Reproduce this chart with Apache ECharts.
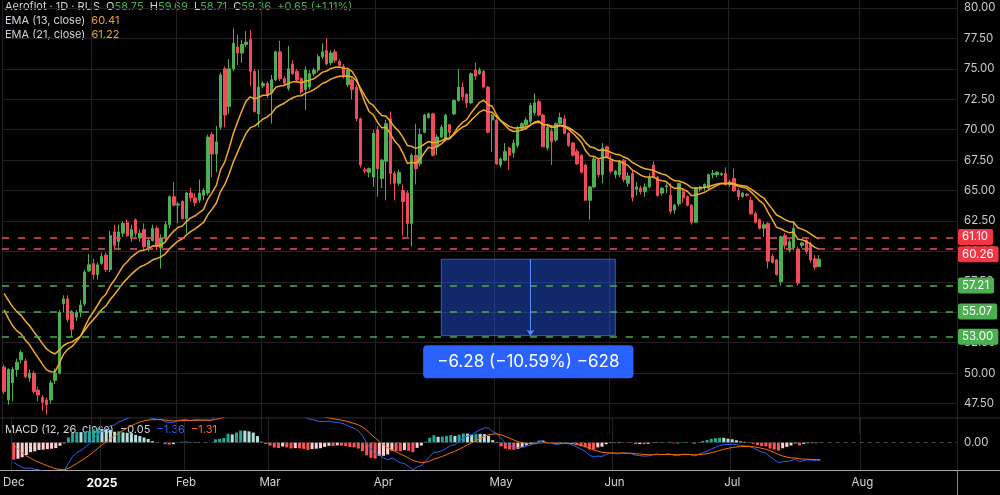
<!DOCTYPE html>
<html>
<head>
<meta charset="utf-8">
<script src="https://cdn.jsdelivr.net/npm/echarts@6/dist/echarts.min.js"></script>
<style>
  html, body { margin: 0; padding: 0; background: #000; }
  #main { width: 1000px; height: 495px; }
</style>
</head>
<body>
<div id="main"></div>
<script>
// daily bars, [open, high, low, close]
const bars = [
  [50.5,50.7,48.3,48.5],[47.8,50.4,47.4,50.3],[49.2,50.5,47.7,50.3],[50.3,51.2,49.7,50.9],[51.1,51.9,50.8,51.7],
  [51.0,51.2,49.6,49.7],[49.6,50.3,49.3,50.0],[50.0,50.2,48.3,48.5],[48.6,48.9,47.7,48.2],[48.0,48.2,46.9,47.6],
  [47.8,48.0,46.6,47.4],[47.8,49.4,47.5,49.2],[49.4,50.4,49.1,50.0],[50.0,55.2,49.9,55.0],[55.7,56.4,55.0,56.1],
  [56.1,56.4,54.2,54.4],[55.0,55.2,53.0,53.6],[54.6,55.2,54.3,55.0],[55.0,56.0,54.6,55.6],[55.7,58.5,55.5,58.3],
  [58.4,59.8,58.3,58.9],[59.0,59.4,57.7,58.1],[58.1,59.1,57.7,58.9],[59.0,59.9,58.9,59.6],[59.7,59.9,58.3,58.5],
  [58.5,61.7,58.3,61.3],[61.6,62.2,60.2,60.5],[60.8,62.2,60.1,61.6],[61.5,62.5,61.2,62.3],[62.4,62.6,61.2,61.3],
  [61.2,62.2,60.8,61.8],[62.6,62.7,61.2,61.5],[61.1,61.8,60.8,61.5],[61.8,62.3,60.1,60.4],[60.25,61.2,60.0,60.9],
  [60.9,62.2,60.8,61.9],[61.9,62.1,60.1,60.4],[60.3,61.4,58.6,61.1],[61.1,62.5,60.8,62.2],[62.2,64.6,61.9,64.5],
  [64.5,65.7,63.7,63.8],[63.8,64.1,62.3,63.9],[64.1,64.2,62.6,62.7],[62.7,64.9,61.5,64.8],[64.8,65.2,64.1,64.4],
  [64.4,64.8,63.7,64.0],[64.2,65.9,64.0,64.8],[64.6,65.2,64.2,65.0],[64.8,69.6,64.6,69.4],[69.6,69.8,66.1,68.0],
  [68.0,70.3,66.5,69.0],[70.2,74.7,70.0,74.5],[75.0,75.2,70.2,71.2],[71.9,75.8,71.3,75.0],[75.0,78.3,74.8,77.1],
  [76.8,77.8,75.3,76.3],[76.3,77.4,75.5,77.0],[77.0,78.1,76.8,77.2],[77.4,78.2,73.6,74.8],[74.8,75.0,71.4,71.5],
  [71.3,74.9,70.2,73.5],[73.6,74.0,73.4,73.8],[73.8,74.0,72.6,72.8],[73.0,74.5,70.5,74.1],[74.1,76.5,74.0,76.4],
  [76.4,77.3,74.0,74.2],[74.2,74.4,73.6,73.8],[73.4,76.9,73.2,75.0],[75.4,75.7,74.5,74.6],[74.8,75.0,73.9,74.1],
  [74.2,74.3,72.9,73.1],[73.3,75.2,71.6,74.9],[73.5,74.9,73.3,74.6],[74.6,75.1,74.4,74.9],[74.9,76.2,74.7,76.0],
  [76.0,77.1,75.8,76.4],[76.5,77.5,75.3,75.4],[75.5,76.5,75.3,76.3],[76.4,76.6,75.5,75.7],[75.6,75.8,75.1,75.3],
  [75.2,75.4,74.2,74.4],[73.7,75.1,73.5,74.9],[74.1,74.3,72.5,73.3],[73.5,73.7,70.7,70.9],[70.9,71.0,66.9,67.1],
  [66.7,66.9,66.4,66.6],[66.5,66.9,66.1,66.8],[66.1,70.0,65.3,69.7],[70.0,70.3,64.5,66.8],[66.0,67.6,65.2,67.5],
  [67.4,70.8,64.2,70.5],[70.9,71.5,65.5,66.4],[66.4,66.6,64.2,65.6],[65.6,66.7,65.4,66.5],[65.0,65.5,61.3,64.1],
  [64.8,65.0,61.2,62.3],[62.3,68.1,60.4,67.9],[67.9,70.5,65.5,66.8],[67.2,70.1,67.0,69.6],[69.8,71.3,69.7,71.2],
  [71.0,71.4,70.9,71.3],[71.3,71.4,67.8,67.9],[68.6,69.6,67.9,69.4],[69.4,70.4,69.3,70.2],[69.3,71.3,69.2,71.2],
  [70.4,70.5,69.3,69.8],[71.3,72.5,71.2,72.4],[72.4,75.0,72.3,73.5],[73.5,73.9,72.4,72.7],[72.9,73.0,71.8,72.2],
  [72.2,74.7,72.1,74.6],[74.9,75.5,74.1,74.4],[74.6,75.1,74.5,74.9],[74.8,74.9,73.4,73.5],[73.5,73.6,69.7,69.8],
  [70.8,71.3,68.2,71.2],[70.8,70.9,67.1,67.2],[67.1,67.7,66.9,67.6],[67.5,68.9,67.4,68.2],[68.5,68.6,66.7,67.9],
  [68.1,69.2,67.7,68.9],[68.7,70.3,68.5,70.1],[70.1,70.6,69.9,70.5],[70.4,71.0,70.2,70.8],[70.7,72.2,70.5,72.0],
  [71.4,73.0,71.2,72.2],[72.3,72.5,71.1,71.2],[71.2,71.3,68.6,68.6],[68.5,70.5,68.3,70.2],[69.9,70.1,67.1,69.0],
  [69.15,70.6,69.0,70.5],[70.5,71.4,70.3,71.0],[70.9,71.2,69.6,69.7],[69.7,69.8,68.6,68.7],[68.9,69.0,67.8,67.9],
  [68.2,68.4,67.1,67.2],[67.9,68.0,66.4,66.5],[67.1,67.2,64.2,64.2],[64.2,65.4,62.6,65.3],[65.3,67.8,65.2,67.6],
  [67.5,67.7,66.1,66.3],[66.3,68.9,65.6,68.5],[68.6,68.7,67.7,67.8],[67.5,67.9,66.4,66.6],[66.3,66.7,66.0,66.6],
  [66.3,67.5,66.1,67.4],[67.5,67.6,65.7,65.9],[65.6,66.5,65.3,66.2],[66.4,66.7,64.1,64.4],[65.1,65.7,64.6,65.3],
  [65.2,65.4,64.7,64.9],[64.9,65.6,64.5,65.3],[65.3,66.4,65.2,66.1],[67.1,67.4,66.0,66.1],[66.1,66.2,64.5,64.6],
  [64.8,65.3,64.6,65.2],[65.3,65.6,64.8,65.4],[64.6,65.6,63.1,63.3],[63.4,63.9,63.1,63.8],[63.9,65.6,63.7,65.6],
  [64.9,65.2,64.0,64.4],[64.5,64.6,63.7,63.8],[63.8,63.9,62.2,62.4],[62.4,65.3,62.4,65.2],[65.1,65.4,64.9,65.3],
  [65.3,65.6,65.0,65.5],[65.2,66.4,65.1,66.3],[66.3,66.7,66.0,66.4],[66.3,66.6,66.1,66.5],[66.3,66.5,66.2,66.4],
  [66.4,66.9,65.4,65.5],[65.5,65.9,65.3,65.7],[66.0,66.8,64.9,65.0],[65.0,65.2,64.2,64.5],[64.5,64.9,64.4,64.8],
  [64.7,64.8,64.5,64.6],[64.2,64.5,63.0,63.1],[63.1,63.3,62.3,62.4],[62.6,62.7,61.8,61.9],[61.9,62.4,61.2,62.2],
  [62.3,62.4,58.6,59.2],[59.6,59.8,59.0,59.1],[59.3,59.4,58.0,58.1],[57.5,61.3,57.2,61.2],[61.3,61.5,60.2,60.5],
  [60.1,61.0,59.9,60.8],[60.3,62.5,60.1,61.9],[60.2,60.4,57.2,57.4],[60.5,60.8,60.3,60.7],[60.9,61.1,59.8,60.0],
  [60.6,60.8,59.1,59.3],[59.4,59.7,58.5,58.71],[58.75,59.69,58.71,59.36]
];
const slots = 225; // bar slots across the plot, the last ones empty
const monthTicks = { 0: 'Dec', 21: '2025', 41: 'Feb', 61: 'Mar', 88: 'Apr', 116: 'May', 143: 'Jun', 171: 'Jul', 202: 'Aug' };
const redLevels = [61.10, 60.26];
const greenLevels = [57.21, 55.07, 53.00];
// indicator values at the first visible bar (history before it is off screen)
const emaSeeds = [55.2, 56.55];          // EMA13, EMA21
const macdSeeds = [55.0, 56.6, -0.2];    // EMA12, EMA26, signal
const boxBars = [103, 144];
const boxPrices = [59.36, 53.08];
const boxText = '\u22126.28 (\u221210.59%) \u2212628';

const FONT = 'Inter, "Noto Sans", sans-serif';
const UP = '#4caf50', DOWN = '#f04b5a';
const LEG = 11;

function ema(values, n, seed) {
  const k = 2 / (n + 1);
  let e = seed;
  return values.map((v, i) => {
    if (i > 0) e = e + k * (v - e);
    return +e.toFixed(4);
  });
}

const closes = bars.map(b => b[3]);
const ema13 = ema(closes, 13, emaSeeds[0]);
const ema21 = ema(closes, 21, emaSeeds[1]);
const e12 = ema(closes, 12, macdSeeds[0]);
const e26 = ema(closes, 26, macdSeeds[1]);
const macd = e12.map((v, i) => +(v - e26[i]).toFixed(4));
const signal = ema(macd, 9, macdSeeds[2]);
const hist = macd.map((v, i) => +(v - signal[i]).toFixed(4));
const histData = hist.map((h, i) => {
  const prev = i > 0 ? hist[i - 1] : h;
  let c;
  if (h >= 0) c = h >= prev ? '#26a69a' : '#b2dfdb';
  else c = h <= prev ? '#ff5252' : '#ffcdd2';
  return { value: h, itemStyle: { color: c } };
});

const cats = [];
for (let i = 0; i < slots; i++) cats.push(String(i));
const isMonth = (i) => monthTicks[i] !== undefined;

const levelLines = [];
redLevels.forEach((v, k) => levelLines.push({
  yAxis: v, lineStyle: { color: '#f0505e' },
  label: { backgroundColor: '#f23645', offset: [0, k === 0 ? -1 : 6] }
}));
greenLevels.forEach(v => levelLines.push({
  yAxis: v, lineStyle: { color: '#4caf50' },
  label: { backgroundColor: '#4caf50' }
}));

function legendText(top, text, rich) {
  return {
    type: 'text', left: 5, top: top, silent: true,
    style: { text: text, fontSize: LEG, fontFamily: FONT, fill: '#d1d4dc', rich: rich }
  };
}
const rs = (fill) => ({ fill: fill, fontSize: LEG, fontFamily: FONT });

const chart = echarts.init(document.getElementById('main'));
chart.setOption({
  backgroundColor: '#000',
  animation: false,
  textStyle: { fontFamily: FONT },
  grid: [
    { left: 2, right: 43, top: 0, height: 434 },
    { left: 2, right: 43, top: 418, height: 52 }
  ],
  xAxis: [
    {
      gridIndex: 0, type: 'category', data: cats, boundaryGap: true,
      axisLine: { show: false }, axisTick: { show: false }, axisLabel: { show: false },
      splitLine: { show: true, interval: isMonth, lineStyle: { color: '#222' } }
    },
    {
      gridIndex: 1, type: 'category', data: cats, boundaryGap: true,
      axisLine: { show: false }, axisTick: { show: false },
      axisLabel: {
        interval: isMonth, color: '#d1d4dc', fontSize: 11.5, margin: 7, fontFamily: FONT,
        alignMinLabel: 'center',
        formatter: (v) => monthTicks[v] === '2025' ? '{b|2025}' : monthTicks[v],
        rich: { b: { fontWeight: 'bold', color: '#ffffff', fontSize: 12, fontFamily: FONT } }
      },
      splitLine: { show: true, interval: isMonth, lineStyle: { color: '#222' } }
    }
  ],
  yAxis: [
    {
      gridIndex: 0, type: 'value', position: 'right', min: 45, max: 80.657, interval: 2.5,
      axisLine: { show: false }, axisTick: { show: false },
      axisLabel: {
        color: '#c7cad1', fontSize: 11.5, margin: 7, fontFamily: FONT,
        showMinLabel: false, showMaxLabel: false,
        formatter: (v) => v.toFixed(2)
      },
      splitLine: { lineStyle: { color: '#222' }, showMinLine: false, showMaxLine: false }
    },
    {
      gridIndex: 1, type: 'value', position: 'right', min: -2.24, max: 2.0,
      axisLine: { show: false }, axisTick: { show: false },
      axisLabel: { show: false }, splitLine: { show: false }
    }
  ],
  series: [
    {
      type: 'candlestick', xAxisIndex: 0, yAxisIndex: 0, clip: false,
      barWidth: '68%',
      data: bars.map(b => [b[0], b[3], b[2], b[1]]),
      itemStyle: { color: UP, color0: DOWN, borderColor: UP, borderColor0: DOWN, borderWidth: 1 },
      markLine: {
        silent: true, symbol: 'none', animation: false,
        lineStyle: { type: [7, 9], width: 1.5 },
        label: {
          show: true, position: 'end', distance: 1, color: '#fff', fontSize: 11.5, fontFamily: FONT,
          padding: [2, 5, 2, 4], borderRadius: 2,
          formatter: (p) => p.value.toFixed(2)
        },
        data: levelLines
      }
    },
    {
      type: 'line', xAxisIndex: 0, yAxisIndex: 0, data: ema13, showSymbol: false,
      lineStyle: { color: '#f6a623', width: 1.5 }, z: 3
    },
    {
      type: 'line', xAxisIndex: 0, yAxisIndex: 0, data: ema21, showSymbol: false, clip: false,
      lineStyle: { color: '#f2ad2a', width: 1.5 }, z: 3,
      markArea: {
        silent: true,
        itemStyle: { color: 'rgba(41,98,255,0.42)', borderColor: 'rgba(70,120,255,0.7)', borderWidth: 1 },
        label: {
          show: true, position: 'bottom', distance: 9, formatter: boxText,
          color: '#fff', backgroundColor: '#2962ff', padding: [8, 14], borderRadius: 4,
          fontSize: 17, fontFamily: FONT
        },
        data: [[{ xAxis: boxBars[0], yAxis: boxPrices[0] }, { xAxis: boxBars[1], yAxis: boxPrices[1] }]]
      },
      markLine: {
        silent: true, symbol: ['none', 'arrow'], symbolSize: 6,
        lineStyle: { color: '#5a88ff', width: 1, type: 'solid' },
        label: { show: false },
        data: [[{ coord: [124, boxPrices[0]] }, { coord: [124, boxPrices[1]] }]]
      }
    },
    {
      type: 'bar', xAxisIndex: 1, yAxisIndex: 1, data: histData, barWidth: '72%',
      markLine: {
        silent: true, symbol: 'none',
        lineStyle: { color: '#4a4a4a', width: 1, type: [4, 4] },
        label: { show: true, position: 'end', distance: 7, color: '#c7cad1', fontSize: 11.5, fontFamily: FONT,
          formatter: (p) => p.value.toFixed(2) },
        data: [{ yAxis: 0 }]
      }
    },
    {
      type: 'line', xAxisIndex: 1, yAxisIndex: 1, data: macd, showSymbol: false,
      lineStyle: { color: '#2962ff', width: 1 }
    },
    {
      type: 'line', xAxisIndex: 1, yAxisIndex: 1, data: signal, showSymbol: false,
      lineStyle: { color: '#ff6d00', width: 1 }
    }
  ],
  graphic: [
    { type: 'line', shape: { x1: 0, y1: 418, x2: 1000, y2: 418 }, style: { stroke: '#2e2e2e', lineWidth: 1 }, silent: true },
    { type: 'line', shape: { x1: 0, y1: 470.5, x2: 1000, y2: 470.5 }, style: { stroke: '#a8a8a8', lineWidth: 1 }, silent: true },
    { type: 'line', shape: { x1: 957.5, y1: 0, x2: 957.5, y2: 495 }, style: { stroke: '#8a8a8a', lineWidth: 1 }, silent: true },
    legendText(1, '{w|Aeroflot · 1D · RUS}  {w|O}{g|58.75}  {w|H}{g|59.69}  {w|L}{g|58.71}  {w|C}{g|59.36}  {g|+0.65 (+1.11%)}',
      { w: rs('#d1d4dc'), g: rs('#4caf50') }),
    legendText(15, '{w|EMA (13, close)}  {o|60.41}', { w: rs('#d1d4dc'), o: rs('#f0a23b') }),
    legendText(29, '{w|EMA (21, close)}  {o|61.22}', { w: rs('#d1d4dc'), o: rs('#e0b030') }),
    legendText(424, '{w|MACD (12, 26, close)}  {w|\u22120.05}  {b|\u22121.36}  {o|\u22121.31}',
      { w: rs('#d1d4dc'), b: rs('#2962ff'), o: rs('#ff6d00') })
  ]
});
</script>
</body>
</html>
